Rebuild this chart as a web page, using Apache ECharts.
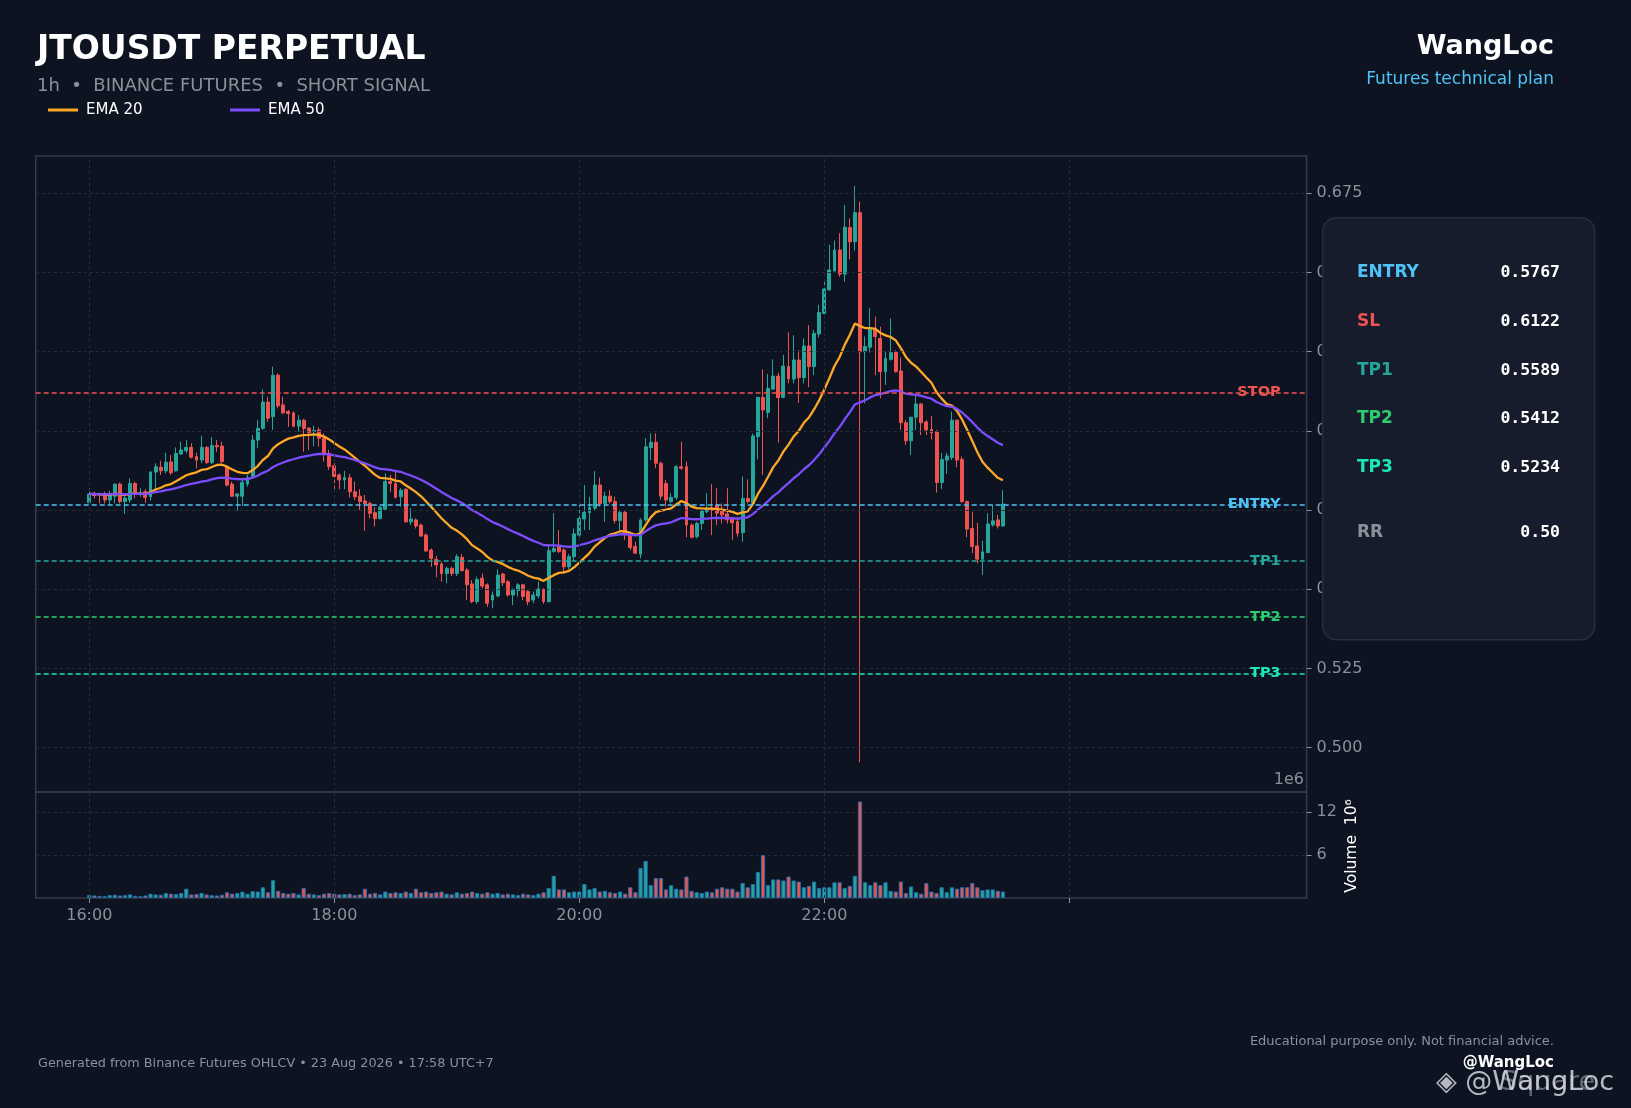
<!DOCTYPE html>
<html>
<head>
<meta charset="utf-8">
<script src="https://cdn.jsdelivr.net/npm/echarts@6/dist/echarts.min.js"></script>
<style>
html,body{margin:0;padding:0;background:#0d1320;}
#c{width:1631px;height:1108px;}
</style>
</head>
<body>
<div id="c"></div>
<script>
// ---------------- DATA ----------------
const symbolTitle = 'JTOUSDT PERPETUAL';
const subtitle = '1h  \u2022  BINANCE FUTURES  \u2022  SHORT SIGNAL';
const author = 'WangLoc';
const authorSub = 'Futures technical plan';
const footerLeft = 'Generated from Binance Futures OHLCV \u2022 23 Aug 2026 \u2022 17:58 UTC+7';
const footerRight = 'Educational purpose only. Not financial advice.';
const footerHandle = '@WangLoc';

const firstCandleTime = '16:00';
const candleMinutes = 2.5;
const hourLabelIdx = [0, 48, 96, 144];
const extraTickIdx = [192];

// [open, close, low, high]
const candles = [
[0.5773,0.5801,0.5769,0.5819],[0.5803,0.5796,0.5787,0.5808],[0.5801,0.5797,0.5771,0.5805],[0.5798,0.5782,0.5771,0.5808],
[0.5782,0.5798,0.5769,0.5811],[0.5794,0.5832,0.5771,0.5834],[0.5832,0.5777,0.5771,0.5837],[0.5777,0.5788,0.5738,0.5801],
[0.5782,0.5834,0.5773,0.5850],[0.5834,0.5801,0.5787,0.5840],[0.5799,0.5805,0.5792,0.5819],[0.5808,0.5790,0.5773,0.5816],
[0.5792,0.5870,0.5780,0.5873],[0.5870,0.5887,0.5813,0.5898],[0.5885,0.5874,0.5861,0.5906],[0.5874,0.5901,0.5866,0.5931],
[0.5902,0.5868,0.5861,0.5924],[0.5874,0.5929,0.5871,0.5948],[0.5927,0.5940,0.5924,0.5966],[0.5937,0.5948,0.5929,0.5971],
[0.5948,0.5917,0.5913,0.5961],[0.5919,0.5908,0.5882,0.5931],[0.5908,0.5948,0.5898,0.5985],[0.5948,0.5900,0.5895,0.5952],
[0.5900,0.5954,0.5895,0.5980],[0.5954,0.5950,0.5934,0.5971],[0.5952,0.5903,0.5898,0.5966],[0.5887,0.5829,0.5824,0.5892],
[0.5832,0.5794,0.5792,0.5840],[0.5794,0.5801,0.5748,0.5803],[0.5794,0.5838,0.5763,0.5845],[0.5832,0.5853,0.5824,0.5861],
[0.5856,0.5971,0.5850,0.5987],[0.5971,0.6008,0.5945,0.6034],[0.6008,0.6091,0.6003,0.6131],[0.6091,0.6040,0.6029,0.6108],
[0.6045,0.6176,0.6003,0.6203],[0.6176,0.6079,0.6071,0.6182],[0.6082,0.6057,0.6053,0.6108],[0.6061,0.6055,0.6013,0.6066],
[0.6057,0.6015,0.6011,0.6061],[0.6015,0.6034,0.5998,0.6050],[0.6034,0.6008,0.5934,0.6038],[0.6009,0.5995,0.5940,0.6011],
[0.5998,0.6001,0.5952,0.6016],[0.6003,0.5977,0.5950,0.6011],[0.5977,0.5929,0.5903,0.5992],
[0.5929,0.5887,0.5877,0.5940],[0.5890,0.5856,0.5816,0.5898],[0.5861,0.5845,0.5816,0.5866],[0.5845,0.5853,0.5816,0.5874],
[0.5852,0.5808,0.5790,0.5864],[0.5808,0.5792,0.5782,0.5840],[0.5794,0.5777,0.5750,0.5816],[0.5779,0.5771,0.5685,0.5798],
[0.5771,0.5740,0.5724,0.5777],[0.5742,0.5723,0.5698,0.5759],[0.5723,0.5759,0.5721,0.5763],[0.5753,0.5840,0.5750,0.5866],
[0.5840,0.5834,0.5808,0.5861],[0.5834,0.5790,0.5787,0.5877],[0.5792,0.5813,0.5761,0.5819],[0.5816,0.5713,0.5710,0.5819],
[0.5713,0.5722,0.5703,0.5756],[0.5719,0.5700,0.5692,0.5724],[0.5703,0.5668,0.5666,0.5708],[0.5671,0.5621,0.5619,0.5677],
[0.5624,0.5597,0.5571,0.5629],[0.5595,0.5577,0.5538,0.5605],[0.5580,0.5550,0.5524,0.5587],[0.5550,0.5566,0.5519,0.5571],
[0.5566,0.5550,0.5542,0.5571],[0.5550,0.5603,0.5542,0.5611],[0.5601,0.5559,0.5556,0.5611],[0.5561,0.5514,0.5466,0.5566],
[0.5517,0.5461,0.5456,0.5529],[0.5461,0.5531,0.5454,0.5540],[0.5535,0.5510,0.5503,0.5550],[0.5514,0.5456,0.5445,0.5519],
[0.5466,0.5482,0.5440,0.5493],[0.5479,0.5545,0.5475,0.5563],[0.5548,0.5521,0.5510,0.5552],[0.5524,0.5482,0.5477,0.5529],
[0.5482,0.5498,0.5450,0.5503],[0.5496,0.5514,0.5477,0.5519],[0.5514,0.5477,0.5466,0.5517],[0.5493,0.5461,0.5450,0.5498],
[0.5466,0.5482,0.5456,0.5493],[0.5479,0.5501,0.5471,0.5524],[0.5500,0.5461,0.5454,0.5503],[0.5461,0.5622,0.5458,0.5635],
[0.5619,0.5629,0.5616,0.5740],[0.5635,0.5619,0.5614,0.5687],[0.5624,0.5571,0.5550,0.5629],[0.5571,0.5603,0.5563,0.5611],
[0.5603,0.5675,0.5587,0.5692],
[0.5671,0.5724,0.5666,0.5766],[0.5722,0.5743,0.5687,0.5829],[0.5742,0.5758,0.5687,0.5792],[0.5756,0.5829,0.5750,0.5873],
[0.5829,0.5771,0.5761,0.5853],[0.5771,0.5794,0.5713,0.5808],[0.5794,0.5777,0.5771,0.5813],[0.5777,0.5717,0.5708,0.5792],
[0.5717,0.5743,0.5687,0.5750],[0.5743,0.5677,0.5656,0.5750],[0.5677,0.5632,0.5624,0.5682],[0.5635,0.5614,0.5611,0.5650],
[0.5611,0.5719,0.5598,0.5724],[0.5719,0.5950,0.5713,0.5977],[0.5947,0.5964,0.5908,0.5992],[0.5964,0.5898,0.5882,0.5992],
[0.5898,0.5794,0.5782,0.5903],[0.5834,0.5782,0.5761,0.5845],[0.5777,0.5790,0.5771,0.5803],[0.5790,0.5887,0.5782,0.5892],
[0.5887,0.5882,0.5877,0.5966],[0.5887,0.5703,0.5664,0.5903],[0.5703,0.5664,0.5661,0.5708],[0.5666,0.5708,0.5661,0.5713],
[0.5708,0.5747,0.5687,0.5750],[0.5745,0.5752,0.5740,0.5803],[0.5756,0.5750,0.5671,0.5832],
[0.5766,0.5740,0.5703,0.5819],[0.5750,0.5735,0.5708,0.5771],[0.5738,0.5719,0.5708,0.5819],[0.5724,0.5710,0.5656,0.5729],
[0.5714,0.5677,0.5666,0.5729],[0.5679,0.5787,0.5650,0.5856],[0.5787,0.5777,0.5771,0.5847],[0.5771,0.5984,0.5769,0.5992],
[0.5982,0.6106,0.5910,0.6106],[0.6106,0.6066,0.5861,0.6194],[0.6058,0.6134,0.6040,0.6180],[0.6132,0.6173,0.6129,0.6226],
[0.6173,0.6105,0.5963,0.6184],[0.6106,0.6205,0.6103,0.6240],[0.6203,0.6164,0.6150,0.6311],[0.6164,0.6224,0.6150,0.6302],
[0.6224,0.6168,0.6089,0.6255],[0.6168,0.6268,0.6150,0.6292],[0.6268,0.6203,0.6138,0.6334],[0.6203,0.6308,0.6176,0.6319],
[0.6306,0.6374,0.6295,0.6398],[0.6371,0.6448,0.6369,0.6476],[0.6445,0.6508,0.6443,0.6587],[0.6505,0.6571,0.6503,0.6601],
[0.6571,0.6495,0.6487,0.6624],[0.6495,0.6643,0.6471,0.6713],[0.6642,0.6597,0.6542,0.6671],[0.6597,0.6689,0.6569,0.6773],
[0.6689,0.6250,0.4954,0.6724],[0.6250,0.6266,0.6087,0.6298],[0.6264,0.6324,0.6247,0.6387],[0.6324,0.6298,0.6176,0.6361],
[0.6292,0.6187,0.6103,0.6329],[0.6187,0.6229,0.6145,0.6250],[0.6226,0.6247,0.6222,0.6355],[0.6249,0.6187,0.6184,0.6255],
[0.6189,0.6026,0.6003,0.6232],[0.6026,0.5969,0.5956,0.6034],[0.5969,0.6043,0.5924,0.6045],[0.6043,0.6085,0.6003,0.6117],
[0.6085,0.6026,0.5987,0.6087],[0.6028,0.6003,0.5987,0.6034],
[0.6005,0.5994,0.5973,0.6047],[0.5998,0.5837,0.5805,0.6003],[0.5837,0.5910,0.5816,0.5931],[0.5908,0.5921,0.5864,0.5931],
[0.5916,0.6034,0.5908,0.6061],[0.6034,0.5908,0.5885,0.6034],[0.5910,0.5777,0.5773,0.5919],[0.5777,0.5690,0.5664,0.5780],
[0.5692,0.5635,0.5614,0.5745],[0.5637,0.5595,0.5582,0.5710],[0.5595,0.5618,0.5545,0.5653],[0.5616,0.5706,0.5614,0.5740],
[0.5703,0.5716,0.5698,0.5766],[0.5719,0.5700,0.5692,0.5735],[0.5700,0.5769,0.5698,0.5813]
];

// volume in units of 1e6
const volumes = [
0.45,0.35,0.30,0.25,0.40,0.45,0.35,0.40,0.50,0.30,0.25,0.35,0.60,0.50,0.45,0.70,0.60,0.55,0.70,1.30,
0.50,0.55,0.70,0.50,0.40,0.35,0.45,0.80,0.60,0.70,0.90,0.60,0.95,0.90,1.50,0.80,2.50,1.00,0.70,0.60,
0.70,0.50,1.40,0.60,0.50,0.40,0.60,0.70,0.60,0.50,0.55,0.60,0.40,0.50,1.30,0.60,0.70,0.50,0.90,0.70,
0.80,0.70,0.90,0.70,1.30,0.80,0.90,0.70,0.80,0.90,0.60,0.50,0.80,0.60,0.70,0.90,0.70,0.60,0.80,0.60,
0.70,0.50,0.60,0.50,0.40,0.60,0.50,0.40,0.60,0.80,1.40,3.10,1.20,1.20,0.80,0.90,0.90,1.95,1.20,1.40,
0.90,1.00,0.80,0.70,0.90,0.60,1.50,0.80,4.20,5.20,1.80,2.80,2.80,1.20,1.80,1.30,1.20,3.00,1.00,0.80,
0.70,0.90,0.80,1.30,1.50,1.30,1.30,0.90,2.10,1.50,1.95,3.65,6.00,1.80,2.60,2.60,2.45,3.00,2.45,2.30,
1.50,1.70,2.30,1.40,1.50,1.50,2.20,2.20,1.40,1.70,3.10,13.50,2.20,1.80,2.20,1.80,2.20,1.00,0.90,2.30,
0.70,1.60,0.80,0.60,2.10,0.90,0.70,1.50,0.80,1.50,1.30,1.50,1.50,2.10,1.50,1.10,1.20,1.20,1.00,0.90
];

const emaPeriods = [20, 50];
const emaNames = ['EMA 20', 'EMA 50'];

const levelNames = ['STOP', 'ENTRY', 'TP1', 'TP2', 'TP3'];
const levelValues = [0.6122, 0.5767, 0.5589, 0.5412, 0.5234];

const panelLabels = ['ENTRY', 'SL', 'TP1', 'TP2', 'TP3', 'RR'];
const panelValues = ['0.5767', '0.6122', '0.5589', '0.5412', '0.5234', '0.50'];

const priceTicks = [0.500, 0.525, 0.550, 0.575, 0.600, 0.625, 0.650, 0.675];
const volumeTicks = [6, 12];

// ---------------- STYLE ----------------
const C = {
  bg: '#0d1320', frame: '#353b48', grid: '#262c39', axisText: '#8b909b',
  up: '#26a69a', down: '#ef5350', volEdge: '#1f6fb0',
  ema: ['#ffa726', '#7c4dff'],
  levels: ['#ef5350', '#4fc3f7', '#26a69a', '#2ecc71', '#1de9b6'],
  panel: ['#4fc3f7', '#ef5350', '#26a69a', '#2ecc71', '#1de9b6', '#8b909b'],
  boxFill: '#161c2b', boxBorder: '#272e3d'
};
const FONT = '"DejaVu Sans", "Noto Sans", sans-serif';
const MONO = '"DejaVu Sans Mono", "Liberation Mono", monospace';

const PAD_L = 10, N_CAT = 249;
const GRID_L = 35.7, GRID_W = 1270.9;
const P_TOP = 156, P_H = 636, V_TOP = 792, V_H = 106;
const PRICE_MIN = 0.48601, PRICE_MAX = 0.68678;
const VOL_MAX = 14.83;

// ---------------- BUILD ----------------
const [h0, m0] = firstCandleTime.split(':').map(Number);
const cats = [];
for (let k = 0; k < N_CAT; k++) {
  const idx = k - PAD_L;
  let m = h0 * 60 + m0 + idx * candleMinutes;
  m = ((m % 1440) + 1440) % 1440;
  const hh = Math.floor(m / 60), mm = Math.floor(m % 60);
  cats.push(String(hh).padStart(2, '0') + ':' + String(mm).padStart(2, '0'));
}
const opens = candles.map(c => c[0]);
const closes = candles.map(c => c[1]);

function emaOf(values, n) {
  const a = 2 / (n + 1);
  const out = [];
  let prev = values[0];
  values.forEach((v, i) => { prev = i === 0 ? v : a * v + (1 - a) * prev; out.push(+prev.toFixed(5)); });
  return out;
}
const emas = emaPeriods.map(n => emaOf(closes, n));

function padded(arr) {
  return cats.map((_, k) => { const i = k - PAD_L; return (i >= 0 && i < arr.length) ? arr[i] : '-'; });
}
const candleData = padded(candles);
const volData = cats.map((_, k) => {
  const i = k - PAD_L;
  if (i < 0 || i >= volumes.length) return '-';
  return { value: volumes[i], itemStyle: { color: closes[i] >= opens[i] ? C.up : C.down } };
});

const labelSet = new Set(hourLabelIdx.map(i => i + PAD_L));
const tickSet = new Set(hourLabelIdx.concat(extraTickIdx).map(i => i + PAD_L));
const vLines = Array.from(tickSet).map(k => ({ xAxis: cats[k] }));

const dash = { type: [3, 3], color: C.grid, width: 1 };

const chart = echarts.init(document.getElementById('c'), null, { renderer: 'canvas', width: 1631, height: 1108 });

const option = {
  backgroundColor: C.bg,
  animation: false,
  grid: [
    { left: GRID_L, width: GRID_W, top: P_TOP, height: P_H, show: true, borderColor: C.frame, borderWidth: 1.5, backgroundColor: 'transparent' },
    { left: GRID_L, width: GRID_W, top: V_TOP, height: V_H, show: true, borderColor: C.frame, borderWidth: 1.5, backgroundColor: 'transparent' }
  ],
  xAxis: [
    { type: 'category', data: cats, gridIndex: 0, boundaryGap: true, show: false },
    {
      type: 'category', data: cats, gridIndex: 1, boundaryGap: true,
      axisLine: { show: false },
      axisTick: { show: true, alignWithLabel: true, length: 5, lineStyle: { color: C.axisText }, interval: (i) => tickSet.has(i) },
      axisLabel: { show: true, interval: (i) => labelSet.has(i), color: C.axisText, fontSize: 16, fontFamily: FONT, margin: 10 },
      splitLine: { show: false }
    }
  ],
  yAxis: [
    {
      type: 'value', gridIndex: 0, position: 'right', min: PRICE_MIN, max: PRICE_MAX, scale: true,
      axisLine: { show: false },
      axisTick: { show: true, length: 5, lineStyle: { color: C.axisText }, customValues: priceTicks },
      axisLabel: { show: true, color: C.axisText, fontSize: 16, fontFamily: FONT, margin: 10, customValues: priceTicks, formatter: v => v.toFixed(3) },
      splitLine: { show: false }
    },
    {
      type: 'value', gridIndex: 1, position: 'right', min: 0, max: VOL_MAX, interval: 6,
      axisLine: { show: false },
      axisTick: { show: true, length: 5, lineStyle: { color: C.axisText }, customValues: volumeTicks },
      axisLabel: { show: true, color: C.axisText, fontSize: 16, fontFamily: FONT, margin: 10, customValues: volumeTicks },
      splitLine: { show: true, lineStyle: dash }
    }
  ],
  series: [
    {
      name: 'gridP', type: 'line', xAxisIndex: 0, yAxisIndex: 0, data: [], z: 1, silent: true,
      markLine: {
        silent: true, symbol: 'none', label: { show: false }, animation: false, precision: 6,
        lineStyle: dash,
        data: priceTicks.map(v => ({ yAxis: v })).concat(vLines)
      }
    },
    {
      name: 'levels', type: 'line', xAxisIndex: 0, yAxisIndex: 0, data: [], z: 2, silent: true,
      markLine: {
        silent: true, symbol: 'none', label: { show: false }, animation: false, precision: 6,
        data: levelValues.map((v, i) => ({ yAxis: v, lineStyle: { color: C.levels[i], type: [5, 3], width: 1.6 } }))
      }
    },
    {
      name: 'price', type: 'candlestick', xAxisIndex: 0, yAxisIndex: 0, data: candleData, z: 3,
      barWidth: 3.4,
      itemStyle: { color: C.up, color0: C.down, borderColor: C.up, borderColor0: C.down, borderWidth: 1 }
    },
    {
      name: emaNames[0], type: 'line', xAxisIndex: 0, yAxisIndex: 0, data: padded(emas[0]), z: 4,
      showSymbol: false, symbol: 'none', lineStyle: { color: C.ema[0], width: 2.3 }
    },
    {
      name: emaNames[1], type: 'line', xAxisIndex: 0, yAxisIndex: 0, data: padded(emas[1]), z: 4,
      showSymbol: false, symbol: 'none', lineStyle: { color: C.ema[1], width: 2.3 }
    },
    {
      name: 'gridV', type: 'line', xAxisIndex: 1, yAxisIndex: 1, data: [], z: 1, silent: true,
      markLine: { silent: true, symbol: 'none', label: { show: false }, animation: false, lineStyle: dash, data: vLines }
    },
    {
      name: 'Volume', type: 'bar', xAxisIndex: 1, yAxisIndex: 1, data: volData, z: 3,
      barWidth: 4.2, itemStyle: { borderColor: C.volEdge, borderWidth: 0.9 }
    }
  ]
};
chart.setOption(option);

// ---------------- GRAPHICS ----------------
function txt(text, x, y, size, color, opts) {
  opts = opts || {};
  return {
    type: 'text', z: 100, x: x, y: y, rotation: opts.rotation || 0,
    style: {
      text: text, fill: color,
      font: (opts.weight || 'normal') + ' ' + size + 'px ' + (opts.family || FONT),
      align: opts.align || 'left', textAlign: opts.align || 'left',
      verticalAlign: 'middle', textVerticalAlign: 'middle'
    }
  };
}
const g = [];
g.push(txt(symbolTitle, 37, 50, 33, '#ffffff', { weight: 'bold' }));
g.push(txt(subtitle, 37, 86, 18, C.axisText));
g.push({ type: 'line', z: 100, shape: { x1: 48, y1: 110, x2: 78, y2: 110 }, style: { stroke: C.ema[0], lineWidth: 3 } });
g.push(txt(emaNames[0], 86, 110, 15, '#ffffff'));
g.push({ type: 'line', z: 100, shape: { x1: 230, y1: 110, x2: 260, y2: 110 }, style: { stroke: C.ema[1], lineWidth: 3 } });
g.push(txt(emaNames[1], 268, 110, 15, '#ffffff'));

g.push(txt(author, 1554, 47, 27, '#ffffff', { weight: 'bold', align: 'right' }));
g.push(txt(authorSub, 1554, 80, 17, C.levels[1], { align: 'right' }));

// level labels on chart
const labelRight = GRID_L + GRID_W - 26;
levelNames.forEach((n, i) => {
  const y = chart.convertToPixel({ yAxisIndex: 0 }, levelValues[i]);
  g.push(txt(n, labelRight, y, 14.5, C.levels[i], { weight: 'bold', align: 'right' }));
});

// 1e6 offset text and volume axis title
g.push(txt('1e6', 1304, 780, 16, C.axisText, { align: 'right' }));
g.push(txt('Volume  10\u2076', 1352, 846, 15.5, '#ffffff', { align: 'center', rotation: Math.PI / 2 }));

// info box
g.push({ type: 'rect', z: 99, shape: { x: 1322.7, y: 217.7, width: 272, height: 422, r: 14 }, style: { fill: C.boxFill, stroke: C.boxBorder, lineWidth: 1.5 } });
const rowY = [273, 322, 370.3, 418.7, 467.7, 532.7];
panelLabels.forEach((l, i) => {
  g.push(txt(l, 1357, rowY[i], 17, C.panel[i], { weight: 'bold' }));
  g.push(txt(panelValues[i], 1560, rowY[i], 16.5, '#ffffff', { weight: 'bold', align: 'right', family: MONO }));
});

// footer
g.push(txt(footerLeft, 38, 1064, 12.8, C.axisText));
g.push(txt(footerRight, 1554, 1042, 13, C.axisText, { align: 'right' }));
g.push(txt(footerHandle, 1554, 1063, 15, '#ffffff', { weight: 'bold', align: 'right' }));
g.push(txt('Square', 1500, 1083, 27, 'rgba(200,205,215,0.45)'));
g.push(txt('\u25C8 @WangLoc', 1436, 1083, 27, 'rgba(225,228,235,0.8)'));

chart.setOption({ graphic: g });
</script>
</body>
</html>
